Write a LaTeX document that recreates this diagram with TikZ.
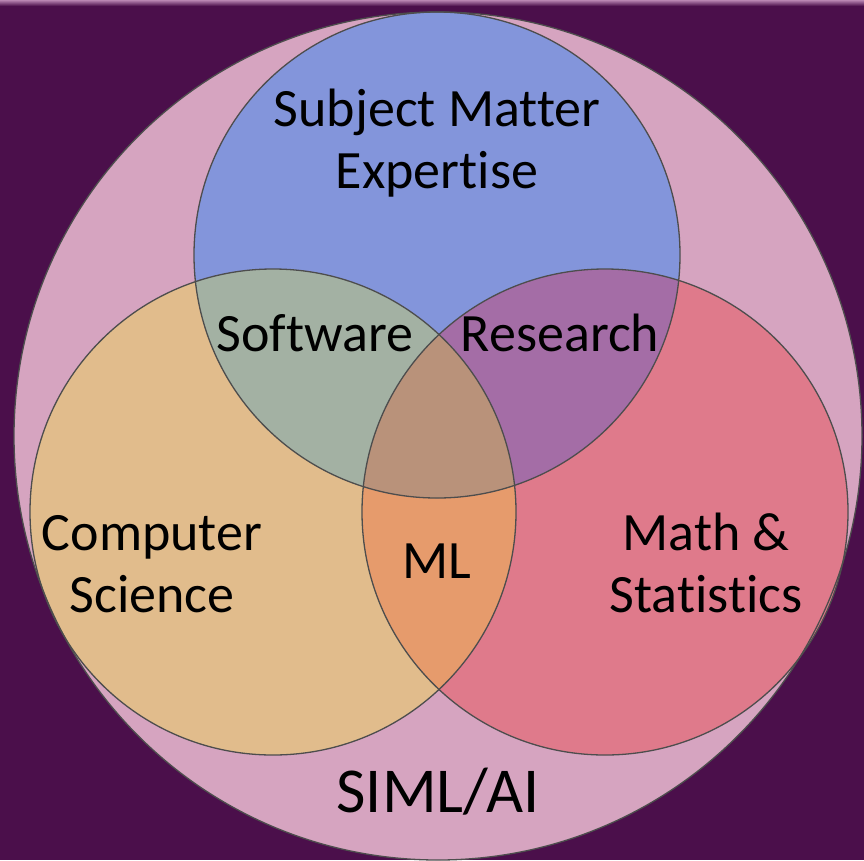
\documentclass[tikz,border=0pt]{standalone}
\usepackage{fontspec}
\setmainfont{Carlito}[Ligatures=NoCommon]
\usetikzlibrary{positioning}
\definecolor{bgpurple}{HTML}{4B0F4B}
\definecolor{stripPink}{HTML}{B986B2}
\definecolor{simlpink}{HTML}{D6A4C0}
\definecolor{smeblue}{HTML}{8395DB}
\definecolor{csorange}{HTML}{E1BC8C}
\definecolor{msred}{HTML}{DF7A8B}
\definecolor{swgreen}{HTML}{A3B1A3}
\definecolor{respurple}{HTML}{A46DA6}
\definecolor{mlorange}{HTML}{E69B6C}
\definecolor{midbrown}{HTML}{B9927A}
\definecolor{ringgray}{HTML}{4D4D4D}
\tikzset{
  venntext/.style={font=\fontsize{54}{62}\selectfont, align=center, text=black, inner sep=0pt},
  ring/.style={draw=ringgray, line width=1.3pt},
}

\begin{document}
\begin{tikzpicture}[x=1pt,y=-1pt]
	\useasboundingbox (0,0) rectangle (864,860);
	\fill[bgpurple] (0,0) rectangle (864,860);
	\shade[top color=stripPink, bottom color=bgpurple] (0,0) rectangle (864,6);

	\coordinate (siml) at (438,436);
	\coordinate (sme)  at (437,255);
	\coordinate (cs)   at (273,512);
	\coordinate (ms)   at (605,512);

	% circles
	\fill[simlpink] (siml) circle[radius=424];
	\fill[smeblue]  (sme)  circle[radius=243];
	\fill[csorange] (cs)   circle[radius=243];
	\fill[msred]    (ms)   circle[radius=243];

	% overlaps
	\begin{scope}
		\clip (cs) circle[radius=243];
		\fill[mlorange] (ms) circle[radius=243];
	\end{scope}
	\begin{scope}
		\clip (sme) circle[radius=243];
		\fill[swgreen]   (cs) circle[radius=243];
		\fill[respurple] (ms) circle[radius=243];
		\clip (cs) circle[radius=243];
		\fill[midbrown]  (ms) circle[radius=243];
	\end{scope}

	\draw[ring] (siml) circle[radius=424];
	\draw[ring] (sme)  circle[radius=243];
	\draw[ring] (cs)   circle[radius=243];
	\draw[ring] (ms)   circle[radius=243];

	% labels (base = last line)
	\node(SME) [venntext, anchor=base] at (437,188) {Subject Matter\\Expertise};
	\node(SW)  [venntext, anchor=base] at (315,351) {Software};
	\node(RES) [venntext, anchor=base] at (560,351) {Research};
	\node(CS)  [venntext, anchor=base] at (152,612) {Computer\\Science};
	\node(MS)  [venntext, anchor=base] at (706,612) {Math \&\\Statistics};
	\node(ML)  [venntext, anchor=base] at (437,578) {ML};
	\node(AI)  [venntext, anchor=base, font=\fontsize{64}{72}\selectfont] at (438,812) {SIML/AI};
\end{tikzpicture}
\end{document}
